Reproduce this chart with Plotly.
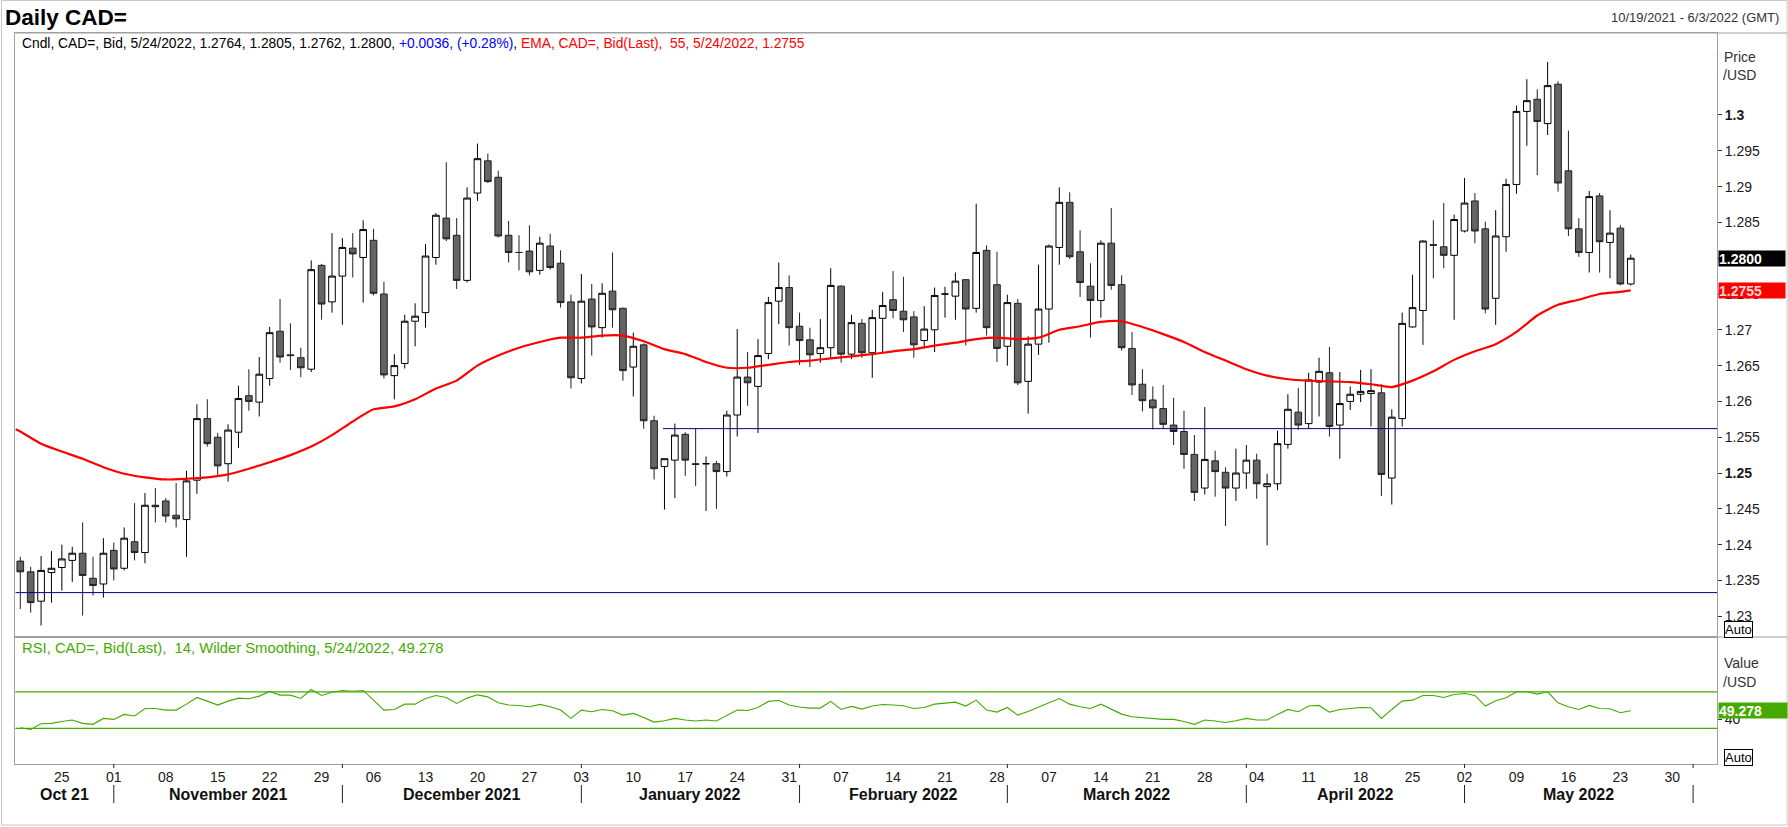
import numpy as np
import pandas as pd
import plotly.graph_objects as go

W, H = 1788, 827

# daily CAD= bid candles, one per weekday from 19 Oct 2021 to 24 May 2022
opens = [1.2377, 1.2362, 1.2321, 1.2361, 1.2368, 1.2378, 1.2388, 1.2353, 1.2345, 1.2392,
         1.2367, 1.2404, 1.2389, 1.2455, 1.2461, 1.2441, 1.2435, 1.2490, 1.2576, 1.2550,
         1.2513, 1.2557, 1.2608, 1.2599, 1.2632, 1.2698, 1.2665, 1.2661, 1.2645, 1.2790,
         1.2739, 1.2775, 1.2814, 1.2801, 1.2825, 1.2750, 1.2636, 1.2653, 1.2712, 1.2724,
         1.2801, 1.2856, 1.2832, 1.2769, 1.2891, 1.2936, 1.2913, 1.2832, 1.2808, 1.2810,
         1.2783, 1.2817, 1.2793, 1.2739, 1.2632, 1.2743, 1.2703, 1.2754, 1.2730, 1.2648,
         1.2679, 1.2573, 1.2509, 1.2518, 1.2554, 1.2513, 1.2513, 1.2513, 1.2502, 1.2581,
         1.2634, 1.2621, 1.2667, 1.2740, 1.2759, 1.2705, 1.2686, 1.2667, 1.2675, 1.2761,
         1.2666, 1.2709, 1.2668, 1.2716, 1.2742, 1.2726, 1.2718, 1.2685, 1.2700, 1.2750,
         1.2747, 1.2770, 1.2730, 1.2811, 1.2763, 1.2677, 1.2737, 1.2628, 1.2680, 1.2729,
         1.2815, 1.2878, 1.2809, 1.2761, 1.2741, 1.2821, 1.2763, 1.2674, 1.2624, 1.2602,
         1.2590, 1.2567, 1.2558, 1.2526, 1.2479, 1.2517, 1.2501, 1.2479, 1.2500, 1.2518,
         1.2481, 1.2485, 1.2540, 1.2585, 1.2569, 1.2627, 1.2640, 1.2567, 1.2600, 1.2610,
         1.2611, 1.2612, 1.2493, 1.2576, 1.2704, 1.2727, 1.2819, 1.2816, 1.2804, 1.2838,
         1.2880, 1.2841, 1.2744, 1.2830, 1.2903, 1.3005, 1.3022, 1.2988, 1.3043, 1.2922,
         1.2841, 1.2808, 1.2887, 1.2822, 1.2842, 1.2764]
highs = [1.2383, 1.2369, 1.2384, 1.2391, 1.2400, 1.2397, 1.2431, 1.2383, 1.2409, 1.2403,
         1.2424, 1.2458, 1.2472, 1.2479, 1.2465, 1.2486, 1.2503, 1.2596, 1.2603, 1.2556,
         1.2568, 1.2622, 1.2645, 1.2662, 1.2704, 1.2743, 1.2709, 1.2675, 1.2797, 1.2792,
         1.2835, 1.2828, 1.2835, 1.2853, 1.2841, 1.2767, 1.2666, 1.2721, 1.2737, 1.2820,
         1.2863, 1.2934, 1.2856, 1.2899, 1.2960, 1.2946, 1.2922, 1.2852, 1.2832, 1.2846,
         1.2830, 1.2834, 1.2811, 1.2749, 1.2778, 1.2764, 1.2765, 1.2808, 1.2731, 1.2696,
         1.2681, 1.2580, 1.2520, 1.2569, 1.2557, 1.2562, 1.2523, 1.2517, 1.2587, 1.2701,
         1.2669, 1.2687, 1.2746, 1.2794, 1.2776, 1.2724, 1.2703, 1.2715, 1.2786, 1.2762,
         1.2721, 1.2715, 1.2728, 1.2753, 1.2782, 1.2774, 1.2726, 1.2733, 1.2759, 1.2760,
         1.2780, 1.2771, 1.2876, 1.2818, 1.2809, 1.2749, 1.2743, 1.2691, 1.2791, 1.2819,
         1.2899, 1.2892, 1.2839, 1.2793, 1.2825, 1.2870, 1.2776, 1.2697, 1.2645, 1.2621,
         1.2623, 1.2605, 1.2587, 1.2553, 1.2592, 1.2531, 1.2508, 1.2534, 1.2539, 1.2527,
         1.2499, 1.2559, 1.2610, 1.2619, 1.2640, 1.2661, 1.2676, 1.2641, 1.2621, 1.2644,
         1.2645, 1.2624, 1.2589, 1.2724, 1.2777, 1.2825, 1.2853, 1.2877, 1.2861, 1.2912,
         1.2891, 1.2851, 1.2867, 1.2911, 1.3013, 1.3050, 1.3036, 1.3074, 1.3047, 1.2978,
         1.2856, 1.2894, 1.2891, 1.2867, 1.2846, 1.2805]
lows = [1.2310, 1.2305, 1.2287, 1.2319, 1.2336, 1.2348, 1.2301, 1.2329, 1.2326, 1.2350,
        1.2364, 1.2378, 1.2374, 1.2431, 1.2431, 1.2424, 1.2383, 1.2471, 1.2537, 1.2495,
        1.2488, 1.2535, 1.2587, 1.2579, 1.2622, 1.2654, 1.2644, 1.2634, 1.2641, 1.2714,
        1.2724, 1.2707, 1.2773, 1.2738, 1.2748, 1.2632, 1.2603, 1.2646, 1.2677, 1.2703,
        1.2791, 1.2824, 1.2757, 1.2766, 1.2880, 1.2905, 1.2829, 1.2794, 1.2783, 1.2776,
        1.2777, 1.2784, 1.2731, 1.2618, 1.2625, 1.2664, 1.2689, 1.2703, 1.2629, 1.2607,
        1.2562, 1.2491, 1.2449, 1.2465, 1.2496, 1.2482, 1.2447, 1.2450, 1.2495, 1.2551,
        1.2594, 1.2556, 1.2659, 1.2708, 1.2678, 1.2651, 1.2648, 1.2654, 1.2660, 1.2654,
        1.2659, 1.2661, 1.2633, 1.2668, 1.2716, 1.2697, 1.2661, 1.2674, 1.2669, 1.2717,
        1.2714, 1.2678, 1.2724, 1.2692, 1.2655, 1.2650, 1.2623, 1.2583, 1.2665, 1.2682,
        1.2791, 1.2799, 1.2746, 1.2689, 1.2717, 1.2756, 1.2671, 1.2609, 1.2586, 1.2561,
        1.2562, 1.2539, 1.2506, 1.2461, 1.2470, 1.2467, 1.2426, 1.2461, 1.2478, 1.2464,
        1.2399, 1.2476, 1.2534, 1.2560, 1.2562, 1.2579, 1.2551, 1.2520, 1.2588, 1.2599,
        1.2565, 1.2468, 1.2456, 1.2565, 1.2703, 1.2679, 1.2772, 1.2786, 1.2714, 1.2836,
        1.2821, 1.2723, 1.2707, 1.2809, 1.2890, 1.2957, 1.2916, 1.2972, 1.2893, 1.2831,
        1.2802, 1.2780, 1.2780, 1.2772, 1.2762, 1.2762]
closes = [1.2362, 1.2319, 1.2364, 1.2367, 1.2380, 1.2388, 1.2357, 1.2343, 1.2388, 1.2366,
          1.2409, 1.2389, 1.2455, 1.2453, 1.2440, 1.2436, 1.2489, 1.2576, 1.2541, 1.2510,
          1.2560, 1.2604, 1.2600, 1.2638, 1.2696, 1.2662, 1.2664, 1.2647, 1.2784, 1.2736,
          1.2775, 1.2815, 1.2806, 1.2840, 1.2751, 1.2637, 1.2650, 1.2712, 1.2719, 1.2803,
          1.2860, 1.2827, 1.2769, 1.2884, 1.2939, 1.2907, 1.2831, 1.2808, 1.2808, 1.2781,
          1.2821, 1.2787, 1.2738, 1.2633, 1.2740, 1.2704, 1.2751, 1.2728, 1.2643, 1.2677,
          1.2573, 1.2506, 1.2520, 1.2553, 1.2518, 1.2512, 1.2513, 1.2502, 1.2581, 1.2634,
          1.2626, 1.2664, 1.2738, 1.2759, 1.2703, 1.2685, 1.2665, 1.2675, 1.2762, 1.2666,
          1.2710, 1.2668, 1.2717, 1.2734, 1.2727, 1.2714, 1.2679, 1.2701, 1.2748, 1.2750,
          1.2768, 1.2729, 1.2808, 1.2703, 1.2674, 1.2738, 1.2626, 1.2680, 1.2729, 1.2817,
          1.2878, 1.2802, 1.2766, 1.2741, 1.2821, 1.2762, 1.2675, 1.2623, 1.2601, 1.2591,
          1.2568, 1.2558, 1.2526, 1.2473, 1.2519, 1.2502, 1.2479, 1.2500, 1.2518, 1.2485,
          1.2485, 1.2541, 1.2589, 1.2567, 1.2630, 1.2642, 1.2565, 1.2597, 1.2610, 1.2614,
          1.2615, 1.2498, 1.2578, 1.2709, 1.2731, 1.2824, 1.2818, 1.2804, 1.2854, 1.2877,
          1.2838, 1.2729, 1.2831, 1.2903, 1.3005, 1.3020, 1.2991, 1.3041, 1.2905, 1.2841,
          1.2808, 1.2886, 1.2823, 1.2835, 1.2764, 1.2800]

# RSI(14), one value per candle
rsi_vals = [30.7, 28.9, 35.1, 35.5, 37.6, 39.1, 35.5, 34.4, 40.9, 39.8,
            45.3, 43.5, 51.8, 51.8, 50.0, 50.0, 56.5, 63.8, 59.8, 55.5,
            59.8, 63.1, 62.4, 65.3, 70.4, 66.4, 66.4, 62.7, 72.5, 66.0,
            69.6, 71.5, 70.7, 71.5, 60.9, 50.0, 50.7, 56.5, 56.5, 62.7,
            66.0, 63.8, 57.3, 63.1, 66.7, 64.5, 58.0, 55.5, 55.1, 53.6,
            56.2, 53.6, 50.0, 40.9, 50.0, 48.2, 50.7, 49.3, 44.5, 46.4,
            42.0, 36.9, 38.4, 40.9, 39.1, 38.0, 39.1, 38.0, 44.2, 50.0,
            49.6, 52.9, 59.5, 60.5, 55.5, 53.3, 52.2, 52.2, 59.5, 50.7,
            54.0, 51.1, 54.4, 56.2, 55.5, 54.7, 51.8, 52.9, 56.5, 58.0,
            58.7, 54.4, 60.9, 50.0, 47.8, 52.9, 44.5, 48.5, 53.6, 58.0,
            62.7, 56.5, 53.6, 51.8, 56.5, 50.7, 45.6, 42.7, 41.6, 40.5,
            39.8, 39.8, 37.6, 34.4, 39.1, 38.0, 36.5, 38.4, 40.9, 39.1,
            39.1, 45.3, 50.7, 48.2, 54.4, 55.1, 47.8, 50.7, 51.8, 52.9,
            52.5, 40.9, 50.7, 59.8, 60.9, 66.0, 66.0, 63.8, 67.1, 68.2,
            66.0, 54.4, 60.2, 63.5, 70.0, 70.0, 67.5, 70.0, 58.0, 53.6,
            50.7, 55.1, 51.8, 51.5, 47.1, 49.278]

# EMA(55) at the left edge and then every second candle
ema_idx = [-0.47] + list(range(0, 156, 2)) + [155]
ema_vals = [1.2561,
            1.2558, 1.2541, 1.2530, 1.2520, 1.2508, 1.2499, 1.2494, 1.2491, 1.2492, 1.2494,
            1.2498, 1.2506, 1.2515, 1.2525, 1.2537, 1.2553, 1.2572, 1.2589, 1.2593, 1.2603,
            1.2618, 1.2629, 1.2650, 1.2664, 1.2675, 1.2683, 1.2689, 1.2689, 1.2692, 1.2692,
            1.2684, 1.2673, 1.2666, 1.2655, 1.2647, 1.2647, 1.2651, 1.2655, 1.2657, 1.2660,
            1.2663, 1.2666, 1.2670, 1.2673, 1.2678, 1.2682, 1.2687, 1.2689, 1.2687, 1.2689,
            1.2700, 1.2705, 1.2711, 1.2712, 1.2704, 1.2694, 1.2683, 1.2669, 1.2657, 1.2645,
            1.2636, 1.2631, 1.2629, 1.2628, 1.2627, 1.2624, 1.2620, 1.2629, 1.2642, 1.2658,
            1.2670, 1.2680, 1.2697, 1.2720, 1.2735, 1.2742, 1.2750, 1.2753, 1.2755]

price_ticks = [1.23, 1.235, 1.24, 1.245, 1.25, 1.255, 1.26, 1.265, 1.27, 1.275,
               1.28, 1.285, 1.29, 1.295, 1.3]
month_labels = ["Oct 21", "November 2021", "December 2021", "January 2022",
                "February 2022", "March 2022", "April 2022", "May 2022"]
lines_lo, lines_hi = 1.2333, 1.2562

days = pd.bdate_range("2021-10-19", "2022-06-03")
dates = days[:len(closes)]


def at(i):
    # position on the weekday axis, fractional candles allowed
    b = int(np.floor(i))
    if b < 0:
        return days[0] + pd.Timedelta(days=float(i))
    return days[b] + pd.Timedelta(days=float(i - b))


def px(x):
    return x / W


def py(y):
    return 1 - y / H


x_range = [at(-0.47), at(163.3)]
mondays = [d for d in days if d.weekday() == 0]
month_starts = sorted(days[days.month == m][0] for m in [11, 12, 1, 2, 3, 4, 5])
month_starts.append(days[days.month == 6][0])
bound_idx = [-0.47] + [float(days.get_loc(d)) for d in month_starts]
label_pos = [at((a + b) / 2) for a, b in zip(bound_idx[:-1], bound_idx[1:])]

GREEN = "#44aa00"
FRAME = "#a0a0a0"
TXT = "#1a1a1a"
FONT = "Liberation Sans, Arial, sans-serif"

fig = go.Figure()

fig.add_trace(go.Candlestick(
    x=dates, open=opens, high=highs, low=lows, close=closes,
    increasing=dict(fillcolor="white", line=dict(color="black", width=1)),
    decreasing=dict(fillcolor="#646464", line=dict(color="#202020", width=1)),
    whiskerwidth=0, showlegend=False, hoverinfo="skip",
    xaxis="x", yaxis="y"))

fig.add_trace(go.Scatter(
    x=[at(i) for i in ema_idx], y=ema_vals, mode="lines",
    line=dict(color="#ff0000", width=2.2, shape="spline", smoothing=0.6),
    showlegend=False, hoverinfo="skip", xaxis="x", yaxis="y"))

fig.add_trace(go.Scatter(
    x=dates, y=rsi_vals, mode="lines", line=dict(color=GREEN, width=1.1),
    showlegend=False, hoverinfo="skip", xaxis="x2", yaxis="y2"))

shapes = [
    dict(type="line", xref="x", yref="y", x0=x_range[0], x1=x_range[1],
         y0=lines_lo, y1=lines_lo, line=dict(color="#000080", width=1)),
    dict(type="line", xref="x", yref="y", x0=at(61.86), x1=x_range[1],
         y0=lines_hi, y1=lines_hi, line=dict(color="#000080", width=1)),
]
for lvl in [70, 30]:
    shapes.append(dict(type="line", xref="paper", yref="y2", x0=px(15.4), x1=px(1717),
                       y0=lvl, y1=lvl, line=dict(color=GREEN, width=1.3)))
for d in month_starts:
    shapes.append(dict(type="line", xref="x2", yref="paper", x0=d, x1=d,
                       y0=py(785), y1=py(803), line=dict(color="#222222", width=1)))
    shapes.append(dict(type="line", xref="x2", yref="paper", x0=d, x1=d,
                       y0=py(764), y1=py(768), line=dict(color="#222222", width=1)))
# outer frame and panel separators
shapes += [
    dict(type="line", xref="paper", yref="paper", x0=px(15.4), x1=1, y0=py(637), y1=py(637),
         line=dict(color=FRAME, width=1)),
    dict(type="line", xref="paper", yref="paper", x0=px(15.4), x1=1, y0=py(33), y1=py(33),
         line=dict(color=FRAME, width=1)),
    dict(type="rect", xref="paper", yref="paper", x0=px(1.5), x1=px(1787), y0=py(825), y1=py(0.5),
         line=dict(color="#c8c8c8", width=1)),
]

ann = []


def note(text, x, y, size=14, color=TXT, xanchor="left", **kw):
    ann.append(dict(text=text, x=x, y=y, xref=kw.pop("xref", "paper"), yref=kw.pop("yref", "paper"),
                    xanchor=xanchor, yanchor=kw.pop("yanchor", "middle"), showarrow=False,
                    font=dict(family=FONT, size=size, color=color), **kw))


note("<b>Daily CAD=</b>", px(3), py(18), size=22.5, color="black")
note("10/19/2021 - 6/3/2022 (GMT)", px(1781), py(17), size=13, xanchor="right", color="#333333")
note("Cndl, CAD=, Bid, 5/24/2022, 1.2764, 1.2805, 1.2762, 1.2800, "
     "<span style='color:#0000ff'>+0.0036, (+0.28%)</span>, "
     "<span style='color:#ff0000'>EMA, CAD=, Bid(Last), &nbsp;55, 5/24/2022, 1.2755</span>",
     px(20), py(43), size=13.8, color="black")
note("RSI, CAD=, Bid(Last), &nbsp;14, Wilder Smoothing, 5/24/2022, 49.278",
     px(20), py(648), size=14.8, color=GREEN)
note("Price", px(1722), py(57), color="#333333")
note("/USD", px(1721), py(75), color="#333333")
note("Value", px(1722), py(663), color="#333333")
note("/USD", px(1721), py(682), color="#333333")
for yy in [629, 757]:
    note("Auto", px(1724), py(yy), size=13, color="black", bordercolor="black",
         borderwidth=1, borderpad=0, bgcolor="white")
note("<b>1.2800</b>", px(1718), 1.2800, yref="y", color="white", bgcolor="black",
     width=66, height=15, align="left", borderpad=0)
note("<b>1.2755</b>", px(1718), 1.2755, yref="y", color="#ffd6d6", bgcolor="#ff0000",
     width=66, height=15, align="left", borderpad=0)
note("<b>49.278</b>", px(1718), 49.278, yref="y2", color="white", bgcolor=GREEN,
     width=68, height=15, align="left", borderpad=0)
for lab, pos in zip(month_labels, label_pos):
    note(f"<b>{lab}</b>", pos, py(794), size=16, color="#111111", xanchor="center", xref="x2")

axis_common = dict(showgrid=False, zeroline=False, showline=True, mirror=True,
                   linecolor=FRAME, linewidth=1)
price_text = [f"<b>{t:g}</b>" if t in (1.25, 1.3) else f"{t:g}" for t in price_ticks]

fig.update_layout(
    width=W, height=H, margin=dict(l=0, r=0, t=0, b=0),
    paper_bgcolor="white", plot_bgcolor="white",
    font=dict(family=FONT, size=14, color=TXT),
    boxgap=0.2, boxgroupgap=0.2,
    hovermode=False, showlegend=False,
    shapes=shapes, annotations=ann,
    xaxis=dict(domain=[px(15.4), px(1717)], anchor="y", type="date", range=x_range,
               rangebreaks=[dict(bounds=["sat", "mon"])], rangeslider=dict(visible=False),
               showticklabels=False, ticks="", **axis_common),
    xaxis2=dict(domain=[px(15.4), px(1717)], anchor="y2", type="date", range=x_range,
                matches="x", rangebreaks=[dict(bounds=["sat", "mon"])],
                tickvals=mondays, tickformat="%d", ticks="",
                tickfont=dict(size=14, color=TXT), **axis_common),
    yaxis=dict(domain=[py(637), py(33)], anchor="x", side="right", range=[1.2271, 1.31145],
               tickvals=price_ticks, ticktext=price_text, ticks="outside", ticklen=4,
               tickcolor="#333333", tickfont=dict(size=14, color=TXT), **axis_common),
    yaxis2=dict(domain=[py(764), py(637)], anchor="x2", side="right", range=[-9, 130],
                tickvals=[40], ticktext=["40"], ticks="outside", ticklen=4,
                tickcolor="#333333", tickfont=dict(size=14, color=TXT), **axis_common),
)

# the page's default 8px body margin would push the figure off the window
fig.write_html("out.html", config={"displayModeBar": False},
               post_script="document.body.style.margin='0';")
